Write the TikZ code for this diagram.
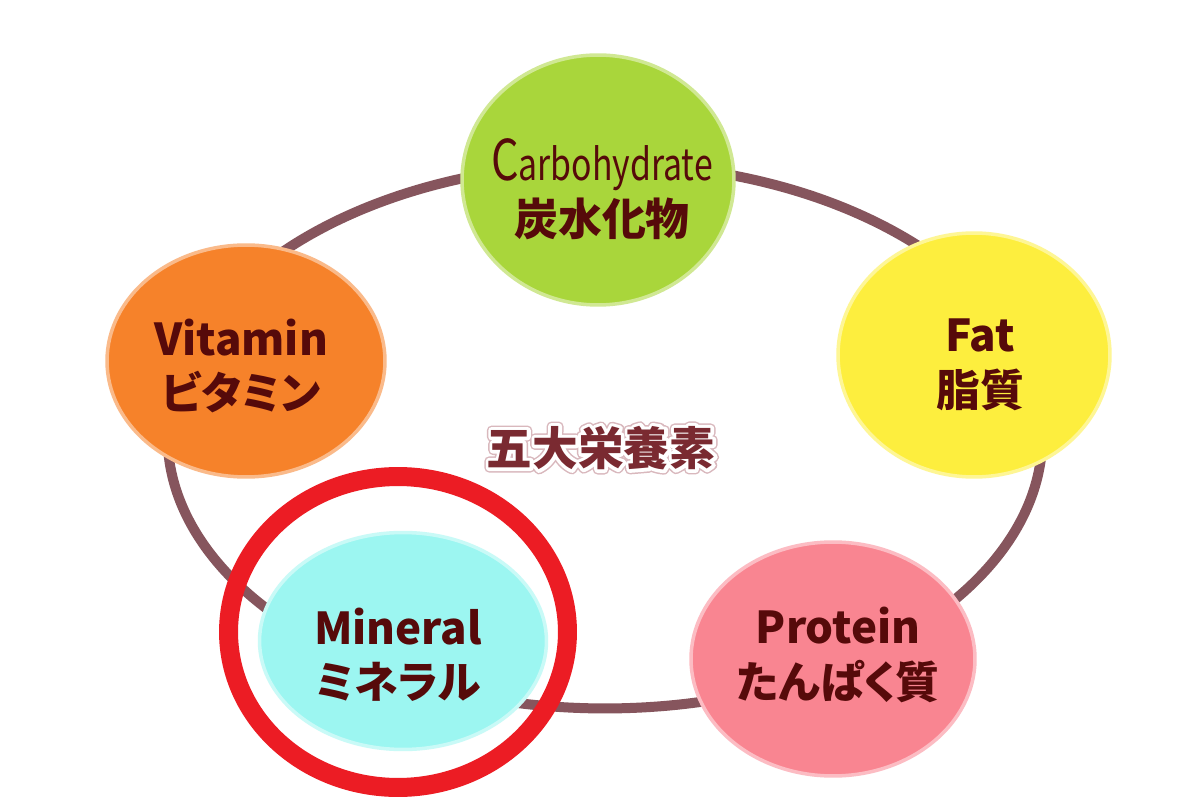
\documentclass[tikz,border=0pt]{standalone}
\usepackage{fontspec}
\setmainfont{Noto Sans CJK JP}[RawFeature=+palt]
\usepackage{xcolor}
\usepackage{tikz}
\usetikzlibrary{shapes.geometric}

\definecolor{ringbrown}{HTML}{86555D}
\definecolor{carbgreen}{HTML}{A9D63B}
\definecolor{vitorange}{HTML}{F6822A}
\definecolor{fatyellow}{HTML}{FDEE3E}
\definecolor{protpink}{HTML}{F98591}
\definecolor{minecyan}{HTML}{9CF6F1}
\definecolor{markred}{HTML}{EC1C24}
\definecolor{labelbrown}{HTML}{560A0A}
\definecolor{titlebrown}{HTML}{7A2A31}
% outlined title text: pink edge, white halo, then the fill
\newcommand{\halotext}[1]{%
  \rlap{\special{pdf:literal direct 1 Tr 1 j 5.5 w 0.85 0.72 0.74 RG}#1}%
  \rlap{\special{pdf:literal direct 1 Tr 1 j 3.8 w 1 1 1 RG}#1}%
  \special{pdf:literal direct 0 Tr}#1}

\begin{document}
\begin{tikzpicture}[x=0.02cm, y=-0.02cm,
    nutrient/.style={ellipse, draw=#1!55!white, line width=2pt, fill=#1},
    lbl/.style={align=center, text=labelbrown, font=\bfseries\fontsize{25}{31}\selectfont},
    ring/.style={draw=ringbrown, line width=0.2cm}]
    \fill[white] (0,0) rectangle (1200,800);
    \useasboundingbox (0,0) rectangle (1200,800);
    % ring behind the five nutrients
    \coordinate (hub) at (605,436);
    \draw[ring] (hub) ellipse (8.75cm and 5.45cm);
    \node[nutrient=carbgreen, minimum width=5.44cm, minimum height=5cm] (carb) at (598,180) {};
    \node[nutrient=fatyellow, minimum width=5.44cm, minimum height=4.88cm] (fat) at (974,355) {};
    \node[nutrient=protpink, minimum width=5.68cm, minimum height=4.68cm] (prot) at (833,659) {};
    \node[nutrient=minecyan, minimum width=5.74cm, minimum height=4.34cm] (mine) at (403,641) {};
    \node[nutrient=vitorange, minimum width=5.56cm, minimum height=4.64cm] (vit) at (246,361) {};
    % red mark round Mineral
    \node[ellipse, draw=markred, line width=0.38cm, minimum width=6.78cm, minimum height=6.22cm] (mark) at (398,632) {};
    % labels
    \node[lbl] (carbtxt) at (602,189) {{\mdseries\scalebox{0.77}[1]{{\fontsize{32}{32}\selectfont C}arbohydrate}}\\炭水化物};
    \node[lbl] (fattxt) at (980,365) {Fat\\脂質};
    \node[lbl] (prottxt) at (838,655) {Protein\\たんぱく質};
    \node[lbl] (minetxt) at (398,655) {Mineral\\ミネラル};
    \node[lbl] (vittxt) at (241,366) {Vitamin\\ビタミン};
    \node[text=titlebrown, font=\bfseries\fontsize{26}{26}\selectfont] (title) at (601,448) {\halotext{五大栄養素}};
\end{tikzpicture}
\end{document}
